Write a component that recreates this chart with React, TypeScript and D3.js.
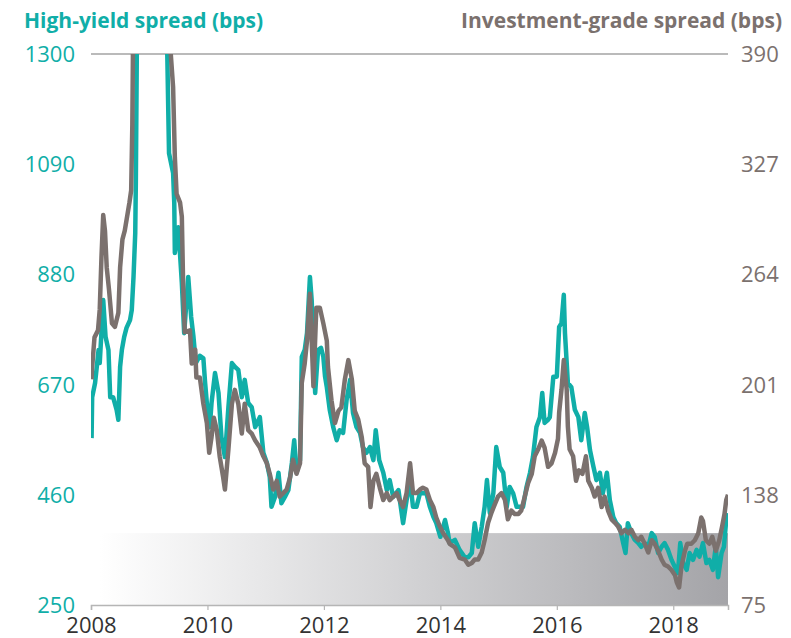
import React, { useRef, useEffect } from "react";
import * as d3 from "d3";

// high-yield spread (bps), left axis
const hyYears = [2008.01, 2008.02, 2008.07, 2008.13, 2008.15, 2008.21, 2008.25, 2008.30, 2008.33, 2008.38, 2008.44, 2008.47, 2008.50, 2008.53, 2008.57, 2008.61, 2008.67, 2008.70, 2008.73, 2008.76, 2008.77, 2008.79, 2008.85, 2008.90, 2008.96, 2009.00, 2009.08, 2009.20, 2009.28, 2009.31, 2009.34, 2009.41, 2009.43, 2009.44, 2009.50, 2009.56, 2009.60, 2009.67, 2009.72, 2009.76, 2009.80, 2009.87, 2009.93, 2009.96, 2010.01, 2010.04, 2010.07, 2010.13, 2010.19, 2010.24, 2010.30, 2010.36, 2010.42, 2010.47, 2010.53, 2010.59, 2010.64, 2010.70, 2010.76, 2010.82, 2010.90, 2010.96, 2011.02, 2011.07, 2011.10, 2011.16, 2011.22, 2011.27, 2011.33, 2011.39, 2011.45, 2011.49, 2011.53, 2011.59, 2011.62, 2011.67, 2011.71, 2011.76, 2011.79, 2011.85, 2011.90, 2011.95, 2011.99, 2012.02, 2012.05, 2012.10, 2012.16, 2012.22, 2012.27, 2012.33, 2012.39, 2012.45, 2012.50, 2012.56, 2012.62, 2012.67, 2012.73, 2012.79, 2012.85, 2012.89, 2012.95, 2013.02, 2013.08, 2013.13, 2013.19, 2013.28, 2013.36, 2013.42, 2013.48, 2013.53, 2013.59, 2013.65, 2013.70, 2013.76, 2013.82, 2013.88, 2013.93, 2014.00, 2014.08, 2014.13, 2014.16, 2014.25, 2014.33, 2014.42, 2014.48, 2014.54, 2014.59, 2014.65, 2014.71, 2014.76, 2014.80, 2014.85, 2014.91, 2014.96, 2015.02, 2015.08, 2015.14, 2015.19, 2015.25, 2015.31, 2015.36, 2015.42, 2015.48, 2015.54, 2015.59, 2015.65, 2015.71, 2015.75, 2015.79, 2015.85, 2015.88, 2015.94, 2016.00, 2016.04, 2016.08, 2016.12, 2016.14, 2016.19, 2016.25, 2016.31, 2016.37, 2016.42, 2016.48, 2016.52, 2016.57, 2016.63, 2016.68, 2016.74, 2016.79, 2016.86, 2016.91, 2016.97, 2017.02, 2017.08, 2017.14, 2017.18, 2017.22, 2017.28, 2017.34, 2017.40, 2017.45, 2017.51, 2017.57, 2017.63, 2017.68, 2017.74, 2017.80, 2017.85, 2017.91, 2017.97, 2018.03, 2018.08, 2018.12, 2018.17, 2018.23, 2018.28, 2018.34, 2018.40, 2018.45, 2018.51, 2018.57, 2018.62, 2018.68, 2018.73, 2018.77, 2018.83, 2018.87, 2018.91, 2018.94];
const hyValues = [568, 646, 673, 736, 711, 831, 761, 736, 646, 646, 622, 603, 704, 736, 761, 778, 793, 812, 875, 959, 1054, 1350, 1600, 1800, 1950, 1800, 1650, 1700, 1450, 1300, 1111, 1073, 1016, 921, 970, 864, 768, 875, 799, 761, 711, 725, 720, 673, 608, 589, 635, 692, 654, 570, 532, 627, 711, 704, 698, 646, 679, 635, 627, 589, 608, 540, 521, 494, 437, 456, 502, 444, 456, 469, 521, 564, 502, 526, 723, 736, 768, 875, 831, 654, 736, 740, 723, 685, 665, 622, 589, 564, 583, 578, 641, 679, 616, 589, 578, 551, 540, 551, 526, 583, 526, 502, 469, 488, 456, 469, 406, 450, 488, 437, 437, 463, 463, 463, 437, 418, 406, 380, 412, 387, 368, 374, 355, 341, 341, 349, 406, 361, 399, 437, 488, 425, 463, 551, 513, 502, 437, 475, 463, 437, 437, 437, 475, 502, 532, 589, 608, 654, 597, 603, 608, 685, 685, 780, 787, 841, 768, 673, 665, 622, 608, 564, 616, 589, 545, 513, 488, 502, 463, 502, 450, 418, 406, 399, 368, 349, 406, 387, 374, 368, 361, 368, 361, 387, 380, 349, 361, 368, 355, 336, 322, 311, 368, 330, 317, 349, 336, 355, 342, 368, 330, 336, 317, 361, 303, 349, 361, 412, 425];

// investment-grade spread (bps), right axis
const igYears = [2008.01, 2008.02, 2008.06, 2008.12, 2008.15, 2008.18, 2008.21, 2008.24, 2008.27, 2008.31, 2008.36, 2008.41, 2008.47, 2008.50, 2008.54, 2008.58, 2008.63, 2008.66, 2008.69, 2008.71, 2008.72, 2008.78, 2008.85, 2008.93, 2008.98, 2009.05, 2009.15, 2009.22, 2009.30, 2009.37, 2009.41, 2009.44, 2009.47, 2009.53, 2009.56, 2009.58, 2009.61, 2009.70, 2009.73, 2009.79, 2009.81, 2009.87, 2009.93, 2009.99, 2010.03, 2010.07, 2010.11, 2010.16, 2010.21, 2010.27, 2010.30, 2010.36, 2010.42, 2010.47, 2010.53, 2010.59, 2010.64, 2010.70, 2010.76, 2010.82, 2010.90, 2010.96, 2011.02, 2011.07, 2011.13, 2011.19, 2011.24, 2011.30, 2011.36, 2011.42, 2011.47, 2011.53, 2011.59, 2011.62, 2011.67, 2011.71, 2011.76, 2011.82, 2011.87, 2011.93, 2011.99, 2012.05, 2012.07, 2012.13, 2012.19, 2012.25, 2012.30, 2012.36, 2012.42, 2012.48, 2012.53, 2012.59, 2012.65, 2012.70, 2012.76, 2012.80, 2012.85, 2012.90, 2012.96, 2013.02, 2013.08, 2013.13, 2013.19, 2013.25, 2013.30, 2013.36, 2013.42, 2013.48, 2013.53, 2013.59, 2013.65, 2013.70, 2013.76, 2013.82, 2013.88, 2013.93, 2013.99, 2014.05, 2014.13, 2014.16, 2014.25, 2014.33, 2014.42, 2014.48, 2014.54, 2014.59, 2014.65, 2014.71, 2014.76, 2014.82, 2014.88, 2014.94, 2014.99, 2015.05, 2015.11, 2015.16, 2015.22, 2015.28, 2015.34, 2015.39, 2015.45, 2015.51, 2015.57, 2015.62, 2015.68, 2015.74, 2015.79, 2015.85, 2015.91, 2015.97, 2016.02, 2016.04, 2016.08, 2016.12, 2016.17, 2016.19, 2016.22, 2016.28, 2016.33, 2016.38, 2016.44, 2016.50, 2016.54, 2016.60, 2016.65, 2016.71, 2016.77, 2016.82, 2016.88, 2016.94, 2017.00, 2017.05, 2017.11, 2017.17, 2017.23, 2017.28, 2017.34, 2017.40, 2017.45, 2017.51, 2017.57, 2017.63, 2017.68, 2017.74, 2017.80, 2017.85, 2017.91, 2017.97, 2018.03, 2018.06, 2018.10, 2018.14, 2018.20, 2018.24, 2018.31, 2018.37, 2018.43, 2018.48, 2018.51, 2018.56, 2018.62, 2018.67, 2018.73, 2018.79, 2018.84, 2018.88, 2018.91, 2018.94];
const igValues = [204, 211, 228, 232, 244, 274, 298, 289, 268, 255, 236, 234, 242, 268, 284, 289, 299, 305, 312, 350, 390, 450, 520, 600, 620, 560, 580, 520, 420, 390, 371, 331, 310, 305, 297, 262, 231, 232, 213, 221, 205, 205, 190, 179, 162, 171, 182, 175, 160, 148, 141, 164, 190, 198, 190, 173, 190, 175, 173, 169, 165, 160, 156, 150, 141, 146, 137, 139, 141, 148, 158, 150, 156, 202, 213, 226, 253, 200, 245, 245, 236, 226, 211, 192, 179, 186, 188, 204, 215, 204, 186, 181, 171, 156, 154, 131, 146, 150, 142, 135, 139, 135, 137, 139, 135, 131, 139, 156, 139, 139, 141, 142, 141, 135, 131, 125, 120, 116, 112, 110, 108, 102, 101, 98, 99, 101, 101, 105, 112, 122, 128, 133, 137, 139, 135, 124, 129, 127, 127, 129, 137, 145, 150, 160, 164, 169, 165, 154, 156, 162, 170, 185, 198, 215, 198, 177, 164, 160, 146, 152, 150, 160, 146, 142, 137, 142, 131, 137, 129, 124, 122, 120, 116, 118, 116, 118, 114, 112, 114, 110, 105, 112, 110, 106, 101, 98, 97, 95, 92, 88, 85, 97, 106, 110, 110, 112, 116, 125, 123, 112, 110, 114, 106, 112, 120, 127, 135, 138];

const hyTicks = [250, 460, 670, 880, 1090, 1300];
const igTicks = [75, 138, 201, 264, 327, 390];
const yearTicks = [2008, 2010, 2012, 2014, 2016, 2018];
// shaded band (left-axis units) and where it starts
const bandRange = [250, 387];
const bandStart = 2008.15;

const teal = "#10aea8";
const taupe = "#7b716e";

const App = () => {
  const svgRef = useRef(null);

  useEffect(() => {
    const svg = d3.select(svgRef.current);
    svg.selectAll("*").remove();

    const left = 91, right = 728, top = 54, bottom = 605;
    const font = "'Open Sans', 'Noto Sans', sans-serif";

    const x = d3.scaleLinear().domain([2008, 2018.94]).range([left, right]);
    const yHy = d3.scaleLinear().domain([250, 1300]).range([bottom, top]);
    const yIg = d3.scaleLinear().domain([75, 390]).range([bottom, top]);

    const defs = svg.append("defs");
    const grad = defs.append("linearGradient").attr("id", "bandGrad")
      .attr("x1", "0").attr("x2", "1").attr("y1", "0").attr("y2", "0");
    grad.append("stop").attr("offset", "0%").attr("stop-color", "#ffffff");
    grad.append("stop").attr("offset", "100%").attr("stop-color", "#a4a4a8");
    defs.append("clipPath").attr("id", "plotClip")
      .append("rect").attr("x", left).attr("y", top)
      .attr("width", right - left).attr("height", bottom - top);

    // gray band
    svg.append("rect")
      .attr("x", x(bandStart))
      .attr("y", yHy(bandRange[1]))
      .attr("width", x.range()[1] - x(bandStart))
      .attr("height", yHy(bandRange[0]) - yHy(bandRange[1]))
      .attr("fill", "url(#bandGrad)");

    // top rule
    svg.append("line")
      .attr("x1", left).attr("x2", right)
      .attr("y1", yHy(1300)).attr("y2", yHy(1300))
      .attr("stroke", "#a3a3a3").attr("stroke-width", 1.5);

    // bottom axis
    const axisX = d3.axisBottom(x).tickValues(yearTicks).tickFormat(d3.format("d")).tickSizeOuter(0).tickSize(5);
    const gx = svg.append("g").attr("transform", `translate(0,${bottom})`).call(axisX);
    gx.select(".domain").attr("stroke", "#b5b5b5").attr("stroke-width", 1.5);
    gx.selectAll(".tick line").attr("stroke", "#b5b5b5").attr("stroke-width", 1.2);
    gx.selectAll(".tick text")
      .attr("font-family", font).attr("font-size", 22).attr("fill", "#333")
      .attr("dy", "0").attr("y", 28);

    // lines
    const lineHy = d3.line().x((d) => x(d[0])).y((d) => yHy(d[1]));
    const lineIg = d3.line().x((d) => x(d[0])).y((d) => yIg(d[1]));
    const plot = svg.append("g").attr("clip-path", "url(#plotClip)");
    plot.append("path")
      .datum(hyYears.map((yr, i) => [yr, hyValues[i]]))
      .attr("d", lineHy)
      .attr("fill", "none").attr("stroke", teal).attr("stroke-width", 4.5)
      .attr("stroke-linejoin", "round");
    plot.append("path")
      .datum(igYears.map((yr, i) => [yr, igValues[i]]))
      .attr("d", lineIg)
      .attr("fill", "none").attr("stroke", taupe).attr("stroke-width", 4.5)
      .attr("stroke-linejoin", "round");

    // left ticks
    svg.append("g").selectAll("text").data(hyTicks).enter().append("text")
      .attr("x", 75).attr("y", (d) => yHy(d) + 8)
      .attr("text-anchor", "end")
      .attr("font-family", font).attr("font-size", 22).attr("fill", teal)
      .text((d) => d);

    // right ticks
    svg.append("g").selectAll("text").data(igTicks).enter().append("text")
      .attr("x", 741).attr("y", (d) => yIg(d) + 8)
      .attr("text-anchor", "start")
      .attr("font-family", font).attr("font-size", 22).attr("fill", taupe)
      .text((d) => d);

    // titles
    svg.append("text")
      .attr("x", 24).attr("y", 28)
      .attr("font-family", font).attr("font-size", 21).attr("font-weight", "bold")
      .attr("fill", teal)
      .text("High-yield spread (bps)");
    svg.append("text")
      .attr("x", 782).attr("y", 28).attr("text-anchor", "end")
      .attr("font-family", font).attr("font-size", 21).attr("font-weight", "bold")
      .attr("fill", taupe)
      .text("Investment-grade spread (bps)");
  }, []);

  return (
    <svg ref={svgRef} width={791} height={638}
      style={{ position: "absolute", left: 0, top: 0, background: "#fff" }}>
    </svg>
  );
};

export default App;
